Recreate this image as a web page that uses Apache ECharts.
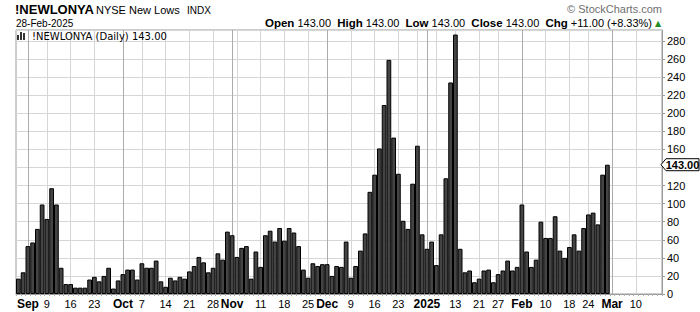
<!DOCTYPE html>
<html><head><meta charset="utf-8">
<script src="https://cdn.jsdelivr.net/npm/echarts@6/dist/echarts.min.js"></script>
<style>html,body{margin:0;padding:0;background:#fff}#c{width:700px;height:312px}</style>
</head><body><div id="c"></div>
<script>
// Trading-day categories (last 11 are empty future slots on the axis)
const dates = [
'2024-08-29','2024-08-30',
'2024-09-03','2024-09-04','2024-09-05','2024-09-06','2024-09-09','2024-09-10','2024-09-11','2024-09-12','2024-09-13',
'2024-09-16','2024-09-17','2024-09-18','2024-09-19','2024-09-20','2024-09-23','2024-09-24','2024-09-25','2024-09-26','2024-09-27','2024-09-30',
'2024-10-01','2024-10-02','2024-10-03','2024-10-04','2024-10-07','2024-10-08','2024-10-09','2024-10-10','2024-10-11',
'2024-10-14','2024-10-15','2024-10-16','2024-10-17','2024-10-18','2024-10-21','2024-10-22','2024-10-23','2024-10-24','2024-10-25',
'2024-10-28','2024-10-29','2024-10-30','2024-10-31',
'2024-11-01','2024-11-04','2024-11-05','2024-11-06','2024-11-07','2024-11-08','2024-11-11','2024-11-12','2024-11-13','2024-11-14','2024-11-15',
'2024-11-18','2024-11-19','2024-11-20','2024-11-21','2024-11-22','2024-11-25','2024-11-26','2024-11-27','2024-11-29',
'2024-12-02','2024-12-03','2024-12-04','2024-12-05','2024-12-06','2024-12-09','2024-12-10','2024-12-11','2024-12-12','2024-12-13',
'2024-12-16','2024-12-17','2024-12-18','2024-12-19','2024-12-20','2024-12-23','2024-12-24','2024-12-26','2024-12-27','2024-12-30','2024-12-31',
'2025-01-02','2025-01-03','2025-01-06','2025-01-07','2025-01-08','2025-01-10','2025-01-13','2025-01-14','2025-01-15','2025-01-16','2025-01-17',
'2025-01-21','2025-01-22','2025-01-23','2025-01-24','2025-01-27','2025-01-28','2025-01-29','2025-01-30','2025-01-31',
'2025-02-03','2025-02-04','2025-02-05','2025-02-06','2025-02-07','2025-02-10','2025-02-11','2025-02-12','2025-02-13','2025-02-14',
'2025-02-18','2025-02-19','2025-02-20','2025-02-21','2025-02-24','2025-02-25','2025-02-26','2025-02-27','2025-02-28',
'2025-03-03','2025-03-04','2025-03-05','2025-03-06','2025-03-07','2025-03-10','2025-03-11','2025-03-12','2025-03-13','2025-03-14','2025-03-17'
];

// NYSE new lows, daily
const newLows = [
17,24,
53,57,72,99,83,117,99,29,11,
11,7,7,7,16,19,14,20,29,6,15,
22,27,27,16,34,29,29,37,14,
8,18,15,19,17,25,31,41,35,24,
29,45,38,69,
65,41,51,53,17,47,30,65,70,58,73,
59,73,68,53,27,18,34,31,33,
33,20,31,30,58,18,31,48,67,113,
132,161,209,259,173,133,81,72,122,164,66,
50,58,32,66,128,234,287,50,24,26,13,
17,26,27,13,22,26,37,26,30,
99,47,30,38,80,62,62,86,48,40,
52,66,48,73,88,90,77,132,143
];

const monthTickDates = ['2024-09-03','2024-10-01','2024-11-01','2024-12-02','2025-01-02','2025-02-03','2025-03-03'];
const monthTickLabels = ['Sep','Oct','Nov','Dec','2025','Feb','Mar'];
const weekTickDates = ['2024-09-09','2024-09-16','2024-09-23','2024-10-07','2024-10-14','2024-10-21','2024-10-28',
  '2024-11-11','2024-11-18','2024-11-25','2024-12-09','2024-12-16','2024-12-23','2025-01-13','2025-01-21','2025-01-27',
  '2025-02-10','2025-02-18','2025-02-24','2025-03-10'];
const weekTickLabels = ['9','16','23','7','14','21','28','11','18','25','9','16','23','13','21','27','10','18','24','10'];
const unlabeledWeekDates = ['2024-11-04','2024-12-30','2025-01-06'];
const yTickValues = [0,20,40,60,80,100,120,140,160,180,200,220,240,260,280];

const labelText = {};
monthTickDates.forEach((d, i) => { labelText[d] = monthTickLabels[i]; });
weekTickDates.forEach((d, i) => { labelText[d] = weekTickLabels[i]; });
const monthSet = new Set(monthTickDates);
const weekGridSet = new Set(weekTickDates.concat(unlabeledWeekDates));
const ySet = new Set(yTickValues);
const lastValue = newLows[newLows.length - 1];

const FONT = 'Liberation Sans, Arial, sans-serif';
const chart = echarts.init(document.getElementById('c'), null, { renderer: 'svg' });

chart.setOption({
  animation: false,
  grid: { left: 16, right: 38, top: 30, bottom: 18, show: true, borderColor: '#9a9a9a', borderWidth: 1,
          containLabel: false, outerBoundsMode: 'none' },
  xAxis: [{
    type: 'category', data: dates, boundaryGap: true,
    axisLine: { show: true, lineStyle: { color: '#9a9a9a' } },
    axisTick: { show: true, interval: 0, length: 2, lineStyle: { color: '#b0b0b0' } },
    axisLabel: {
      interval: (i, v) => labelText[v] !== undefined,
      formatter: (v) => monthSet.has(v) ? '{m|' + labelText[v] + '}' : labelText[v],
      color: '#000', fontSize: 11, fontFamily: FONT, margin: 4, hideOverlap: false,
      rich: { m: { fontWeight: 'bold', fontSize: 12, fontFamily: FONT, color: '#000' } }
    },
    splitLine: { show: false }
  }, {
    type: 'category', data: dates, boundaryGap: true, position: 'bottom',
    axisLine: { show: false }, axisTick: { show: false }, axisLabel: { show: false },
    splitLine: { show: true, interval: (i, v) => weekGridSet.has(v), alignWithLabel: true,
                 lineStyle: { color: '#d6d6d6', width: 1 } }
  }, {
    type: 'category', data: dates, boundaryGap: true, position: 'bottom',
    axisLine: { show: false }, axisTick: { show: false }, axisLabel: { show: false },
    splitLine: { show: true, interval: (i, v) => monthSet.has(v), alignWithLabel: true,
                 lineStyle: { color: '#ababab', width: 1 } }
  }],
  yAxis: [{
    type: 'value', position: 'right', min: 0, max: 292, interval: 20,
    axisLine: { show: true, lineStyle: { color: '#9a9a9a' } },
    axisTick: { show: true, length: 3, lineStyle: { color: '#9a9a9a' } },
    axisLabel: { color: '#000', fontSize: 11, fontFamily: FONT, margin: 5, showMaxLabel: false,
                 // the last-value tag covers the label nearest to it
                 formatter: (v) => (ySet.has(v) && Math.abs(v - lastValue) >= 10) ? String(v) : '' },
    splitLine: { show: true, lineStyle: { color: '#d6d6d6', width: 1, type: 'solid' } }
  }],
  series: [{
    type: 'bar', data: newLows, barCategoryGap: '0%', barGap: '0%', z: 3,
    itemStyle: { color: '#444444', borderColor: '#000', borderWidth: 1 }
  }]
});

const tagY = chart.convertToPixel({ yAxisIndex: 0 }, lastValue);
chart.setOption({
  graphic: [
    { type: 'text', x: 15, y: 9, style: { text: '!NEWLONYA', font: 'bold 13px ' + FONT, fill: '#000', verticalAlign: 'middle' } },
    { type: 'text', x: 96, y: 9.5, style: { text: 'NYSE New Lows', font: '11px ' + FONT, fill: '#000', verticalAlign: 'middle' } },
    { type: 'text', x: 187, y: 10, style: { text: 'INDX', font: '10px ' + FONT, fill: '#000', verticalAlign: 'middle' } },
    { type: 'text', x: 16, y: 23, style: { text: '28-Feb-2025', font: '10px ' + FONT, fill: '#000', verticalAlign: 'middle' } },
    { type: 'text', x: 662, y: 8.5, style: { text: '\u00a9 StockCharts.com', font: '11px ' + FONT, fill: '#6f6f6f', align: 'right', verticalAlign: 'middle' } },
    { type: 'text', x: 652, y: 23, style: {
        text: '{b|Open} 143.00  {b|High} 143.00  {b|Low} 143.00  {b|Close} 143.00  {b|Chg} +11.00 (+8.33%)',
        font: '11px ' + FONT, fill: '#000', align: 'right', verticalAlign: 'middle',
        rich: { b: { fontWeight: 'bold', fontSize: 11.5, fontFamily: FONT, fill: '#000' } } } },
    { type: 'text', z: 10, x: 658, y: 23, style: { text: '\u25B2', font: '8px DejaVu Sans, sans-serif', fill: '#228b22', align: 'center', verticalAlign: 'middle' } },
    { type: 'rect', shape: { x: 17, y: 35, width: 2, height: 5 }, style: { fill: '#333' } },
    { type: 'rect', shape: { x: 20, y: 32, width: 2, height: 8 }, style: { fill: '#333' } },
    { type: 'rect', shape: { x: 23, y: 33, width: 2, height: 7 }, style: { fill: '#333' } },
    { type: 'text', x: 32, y: 36, style: { text: '!NEWLONYA (Daily) 143.00', font: '10px DejaVu Sans, Verdana, sans-serif', fill: '#000', verticalAlign: 'middle' } },
    { type: 'polygon', z: 100, shape: { points: [[661, tagY], [666, tagY - 6], [699, tagY - 6], [699, tagY + 6], [666, tagY + 6]] },
      style: { fill: '#fff', stroke: '#000', lineWidth: 1 } },
    { type: 'text', z: 101, x: 682.5, y: tagY + 0.5, style: { text: lastValue.toFixed(2), font: 'bold 11px ' + FONT, fill: '#000', align: 'center', verticalAlign: 'middle' } }
  ]
});
</script>
</body></html>
